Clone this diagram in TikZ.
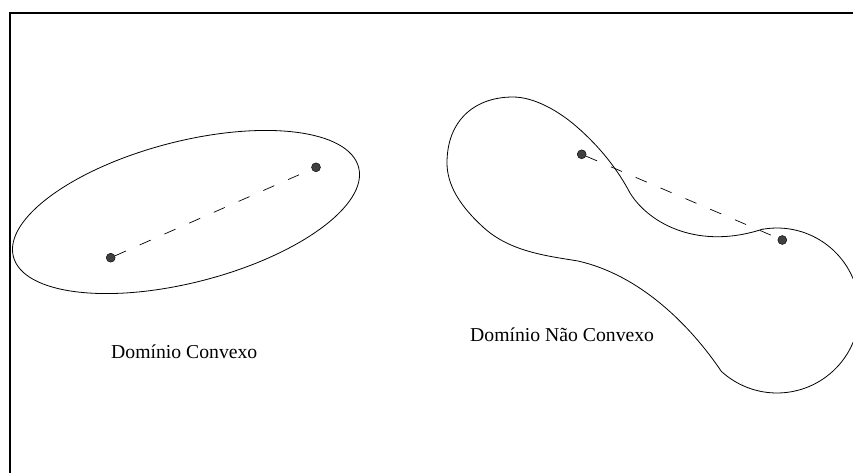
\documentclass[tikz,border=0pt]{standalone}
\usepackage{fontspec}
\setmainfont{Liberation Serif}
\begin{document}
\begin{tikzpicture}[x=1pt,y=-1pt,
  outline/.style={line width=0.8pt,black},
  frameline/.style={line width=2pt,black,line join=miter},
  dot/.style={circle,fill=black!75,draw=black,line width=0.4pt,inner sep=0pt,minimum size=9pt},
  seg/.style={line width=0.7pt,dash pattern=on 12pt off 15pt},
  lbl/.style={anchor=base west,inner sep=0pt,font=\fontsize{19.7}{23}\selectfont}]
\useasboundingbox (0,0) rectangle (853,472);
\clip (0,0) rectangle (853,472);
% frame
\draw[frameline] (10,480) -- (10,13) -- (860,13);
% convex domain
\draw[outline,shift={(186,212)},rotate=14.5] (0,0) ellipse [x radius=178.3pt, y radius=70.5pt];
% non-convex domain
\draw[outline] (578,261)
  .. controls (548,256) and (510,252) .. (483,227)
  .. controls (460,206) and (447,185) .. (447,163)
  .. controls (447,120) and (475,97) .. (513,97)
  .. controls (535,97) and (560,112) .. (577,127)
  .. controls (600,147) and (618,170) .. (630,193)
  .. controls (650,225) and (700,250) .. (763,229)
  -- plot[domain=260.3:492.4,samples=80,variable=\t] ({777+82.5*cos(\t)},{310.5+82.5*sin(\t)})
  .. controls (690,325) and (640,275) .. (578,261) -- cycle;
% points
\node[dot] (a1) at (110.7,257.7) {};
\node[dot] (a2) at (316,167.3) {};
\node[dot] (b1) at (581.7,154.3) {};
\node[dot] (b2) at (782.3,240) {};
\draw[seg] (a1) -- (a2);
\draw[seg] (b1) -- (b2);
% labels
\node[lbl] (l1) at (111,358.3) {Domínio Convexo};
\node[lbl] (l2) at (470,341.5) {Domínio Não Convexo};
\end{tikzpicture}
\end{document}
